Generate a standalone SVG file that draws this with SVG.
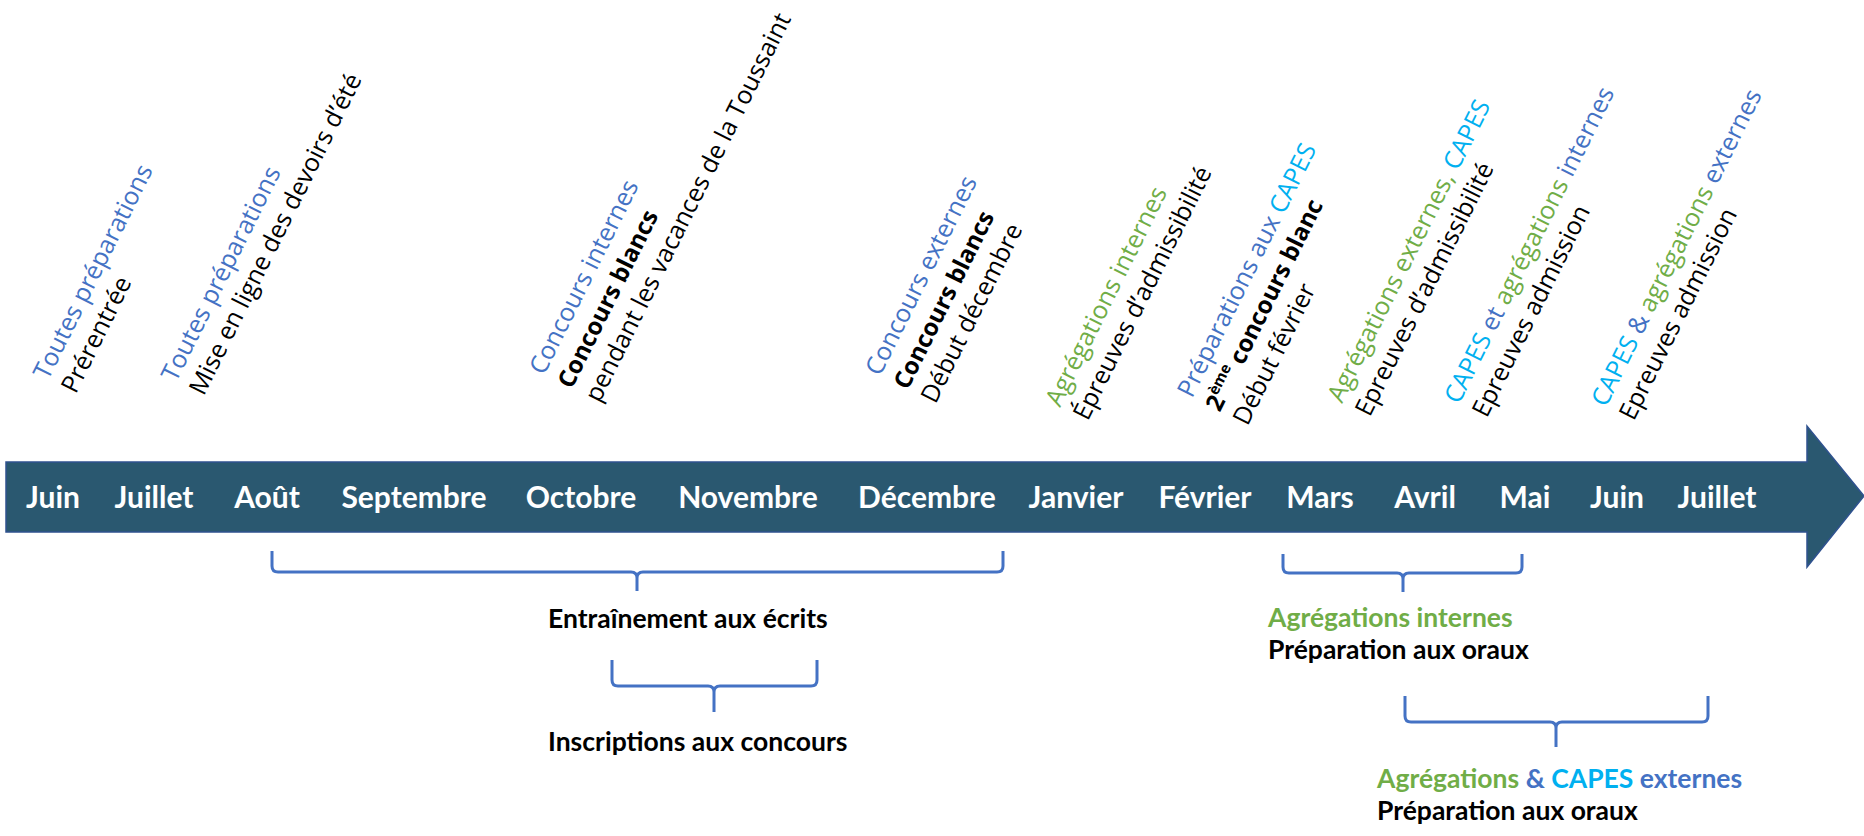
<svg xmlns="http://www.w3.org/2000/svg" width="1864" height="836" viewBox="0 0 1864 836">
<style>
.rot{font-family:"Open Sans","Liberation Sans",sans-serif;font-size:25px;fill:#000}
.b{font-weight:700;font-size:24px}
.sup{font-weight:700;font-size:15px}
.blue{fill:#4472C4}
.cyan{fill:#00B0F0}
.green{fill:#70AD47}
.month{font-family:Lato,"Liberation Sans",sans-serif;font-weight:700;font-size:30px;fill:#fff;text-anchor:middle}
.lbl{font-family:Lato,"Liberation Sans",sans-serif;font-weight:700;font-size:26.5px;fill:#000}
.brace{fill:none;stroke:#4472C4;stroke-width:3;stroke-linejoin:round}
</style>
<rect width="1864" height="836" fill="#fff"/>
<g id="timeline">
<path d="M6,462 L1807,462 L1807,426 L1864,496 L1807,567 L1807,532 L6,532 Z" fill="#2A5870" stroke="#2F528F" stroke-width="1.5"/>
<text class="month" x="53" y="508">Juin</text>
<text class="month" x="154" y="508">Juillet</text>
<text class="month" x="267" y="508">Août</text>
<text class="month" x="414" y="508">Septembre</text>
<text class="month" x="581" y="508">Octobre</text>
<text class="month" x="748" y="508">Novembre</text>
<text class="month" x="927" y="508">Décembre</text>
<text class="month" x="1076" y="508">Janvier</text>
<text class="month" x="1205" y="508">Février</text>
<text class="month" x="1320" y="508">Mars</text>
<text class="month" x="1425" y="508">Avril</text>
<text class="month" x="1525" y="508">Mai</text>
<text class="month" x="1617" y="508">Juin</text>
<text class="month" x="1717" y="508">Juillet</text>
</g>
<g id="ev1" transform="translate(48,381) rotate(-63.5)">
<text class="rot"><tspan class="blue" x="0" y="0">Toutes préparations</tspan><tspan x="0" y="31">Prérentrée</tspan></text>
</g>
<g id="ev2" transform="translate(176,383) rotate(-63.5)">
<text class="rot"><tspan class="blue" x="0" y="0">Toutes préparations</tspan><tspan x="0" y="31">Mise en ligne des devoirs d’été</tspan></text>
</g>
<g id="ev3" transform="translate(544,376) rotate(-63.5)">
<text class="rot"><tspan class="blue" x="0" y="0">Concours internes</tspan><tspan class="b" x="0" y="31">Concours blancs</tspan><tspan x="0" y="62">pendant les vacances de la Toussaint</tspan></text>
</g>
<g id="ev4" transform="translate(880,377) rotate(-63.5)">
<text class="rot"><tspan class="blue" x="0" y="0">Concours externes</tspan><tspan class="b" x="0" y="31">Concours blancs</tspan><tspan x="0" y="62">Début décembre</tspan></text>
</g>
<g id="ev5" transform="translate(1060,408) rotate(-63.5)">
<text class="rot"><tspan class="green" x="0" y="0">Agrégations internes</tspan><tspan x="0" y="31">Épreuves d’admissibilité</tspan></text>
</g>
<g id="ev6" transform="translate(1192,399) rotate(-63.5)">
<text class="rot"><tspan class="blue" x="0" y="0">Préparations aux </tspan><tspan class="cyan">CAPES</tspan><tspan class="b" x="0" y="31">2</tspan><tspan class="sup" dy="-10">ème</tspan><tspan class="b" dy="10"> concours blanc</tspan><tspan x="0" y="62">Début février</tspan></text>
</g>
<g id="ev7" transform="translate(1342,404) rotate(-63.5)">
<text class="rot"><tspan class="green" x="0" y="0">Agrégations externes, </tspan><tspan class="cyan">CAPES</tspan><tspan x="0" y="31">Epreuves d’admissibilité</tspan></text>
</g>
<g id="ev8" transform="translate(1459,405) rotate(-63.5)">
<text class="rot"><tspan class="cyan" x="0" y="0">CAPES</tspan><tspan class="blue"> et </tspan><tspan class="green">agrégations</tspan><tspan class="blue"> internes</tspan><tspan x="0" y="31">Epreuves admission</tspan></text>
</g>
<g id="ev9" transform="translate(1606,408) rotate(-63.5)">
<text class="rot"><tspan class="cyan" x="0" y="0">CAPES</tspan><tspan class="blue"> &amp; </tspan><tspan class="green">agrégations</tspan><tspan class="blue"> externes</tspan><tspan x="0" y="31">Epreuves admission</tspan></text>
</g>
<g id="connectors">
<path class="brace" d="M272,551 L272,566 Q272,572 278,572 L631,572 Q637,572 637,578 L637,591 M637,578 Q637,572 643,572 L997,572 Q1003,572 1003,566 L1003,551"/>
<path class="brace" d="M612,660 L612,680 Q612,686 618,686 L708,686 Q714,686 714,692 L714,712 M714,692 Q714,686 720,686 L811,686 Q817,686 817,680 L817,660"/>
<path class="brace" d="M1283,554 L1283,567 Q1283,573 1289,573 L1397,573 Q1403,573 1403,579 L1403,592 M1403,579 Q1403,573 1409,573 L1516,573 Q1522,573 1522,567 L1522,554"/>
<path class="brace" d="M1405,696 L1405,716 Q1405,722 1411,722 L1550,722 Q1556,722 1556,728 L1556,747 M1556,728 Q1556,722 1562,722 L1702,722 Q1708,722 1708,716 L1708,696"/>
</g>
<g id="span1"><text class="lbl" x="548" y="628">Entraînement aux écrits</text></g>
<g id="span2"><text class="lbl" x="548" y="751">Inscriptions aux concours</text></g>
<g id="span3"><text class="lbl" x="1268" y="627"><tspan class="green">Agrégations internes</tspan><tspan x="1268" y="659">Préparation aux oraux</tspan></text></g>
<g id="span4"><text class="lbl" x="1377" y="788"><tspan class="green">Agrégations</tspan><tspan class="blue"> &amp; </tspan><tspan class="cyan">CAPES</tspan><tspan class="blue"> externes</tspan><tspan x="1377" y="820">Préparation aux oraux</tspan></text></g>
</svg>
